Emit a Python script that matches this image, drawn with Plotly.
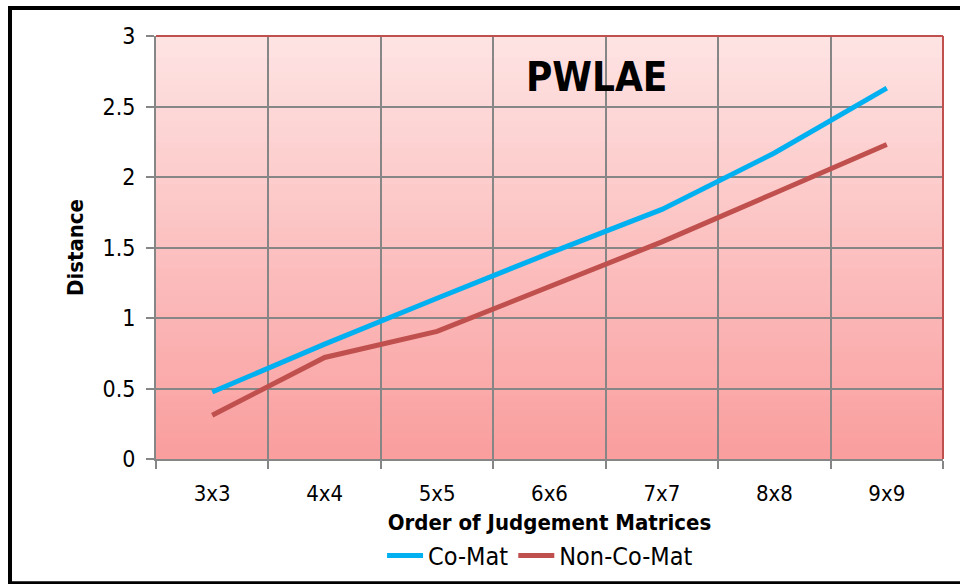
import plotly.graph_objects as go

categories = ["3x3", "4x4", "5x5", "6x6", "7x7", "8x8", "9x9"]
co_mat = [0.475, 0.815, 1.14, 1.46, 1.77, 2.17, 2.63]
non_co_mat = [0.31, 0.72, 0.905, 1.22, 1.54, 1.885, 2.23]
y_ticks = [0, 0.5, 1, 1.5, 2, 2.5, 3]
y_ticktext = ["0", "0.5", "1", "1.5", "2", "2.5", "3"]

FONT = "DejaVu Sans Condensed, Liberation Sans Narrow, sans-serif"

fig = go.Figure()
fig.add_trace(go.Scatter(x=categories, y=co_mat, name="Co-Mat", mode="lines",
                         line=dict(color="#00B0F0", width=5)))
fig.add_trace(go.Scatter(x=categories, y=non_co_mat, name="Non-Co-Mat", mode="lines",
                         line=dict(color="#C0504D", width=5)))

# gradient background of plot area (overlapping bands to avoid seams)
shapes = [dict(type="rect", xref="x domain", yref="y domain", x0=0, x1=1, y0=0, y1=1,
               fillcolor="rgb(252,192,192)", line=dict(width=0), layer="below")]
n = 60
top = (254, 227, 227)
bot = (250, 158, 158)
for i in range(n):
    t = i / (n - 1)
    c = tuple(int(round(top[k] + (bot[k] - top[k]) * t)) for k in range(3))
    shapes.append(dict(type="rect", xref="x domain", yref="y domain",
                       x0=0, x1=1, y0=max(0, 1 - (i + 1.6) / n), y1=1 - i / n,
                       fillcolor="rgb(%d,%d,%d)" % c, line=dict(width=0), layer="below"))
# red top and right plot borders
shapes.append(dict(type="line", xref="x domain", yref="y domain", x0=0, x1=1, y0=1, y1=1,
                   line=dict(color="#C0504D", width=2), layer="above"))
shapes.append(dict(type="line", xref="x domain", yref="y domain", x0=1, x1=1, y0=0, y1=1,
                   line=dict(color="#C0504D", width=2), layer="above"))
# outer chart frame
shapes.append(dict(type="rect", xref="paper", yref="paper",
                   x0=-0.1855, x1=1.03, y0=-0.2935, y1=1.066,
                   line=dict(color="black", width=4), fillcolor="rgba(0,0,0,0)", layer="above"))

fig.update_layout(
    width=960, height=584,
    margin=dict(l=156, r=17, t=36, b=125, autoexpand=False),
    paper_bgcolor="white", plot_bgcolor="white",
    font=dict(family=FONT, size=22, color="black"),
    shapes=shapes,
    showlegend=True,
    legend=dict(orientation="h", x=0.488, xanchor="center", y=-0.229, yanchor="middle",
                font=dict(size=25, family=FONT), tracegroupgap=0, itemwidth=36,
                bgcolor="rgba(0,0,0,0)"),
    annotations=[dict(text="<b>PWLAE</b>", x=(596 - 156) / 787, y=(459 - 77) / 423,
                      xref="paper", yref="paper", xanchor="center", yanchor="middle",
                      showarrow=False, font=dict(size=40, family=FONT, color="black"))],
)
fig.update_xaxes(type="category", tickson="boundaries", showgrid=True, gridcolor="#868686",
                 gridwidth=2, showline=True, linecolor="#868686", linewidth=2,
                 ticks="outside", ticklen=8, tickcolor="#868686", tickwidth=2,
                 tickfont=dict(size=22, family=FONT), ticklabelstandoff=14,
                 title=dict(text="<b>Order of Judgement Matrices</b>", standoff=9,
                            font=dict(size=22, family=FONT)),
                 range=[-0.5, 6.5], zeroline=False, automargin=False)
fig.update_yaxes(range=[0, 3], tickvals=y_ticks, ticktext=y_ticktext, showgrid=True,
                 gridcolor="#868686", gridwidth=2, showline=True, linecolor="#868686",
                 linewidth=2, ticks="outside", ticklen=8, tickcolor="#868686", tickwidth=2,
                 tickfont=dict(size=23, family=FONT), ticklabelstandoff=6,
                 title=dict(text="<b>Distance</b>", standoff=13, font=dict(size=22, family=FONT)),
                 zeroline=False, automargin=False)

fig.write_html("out.html", config={"displayModeBar": False},
               post_script="document.body.style.margin='0';document.body.style.overflow='hidden';")
